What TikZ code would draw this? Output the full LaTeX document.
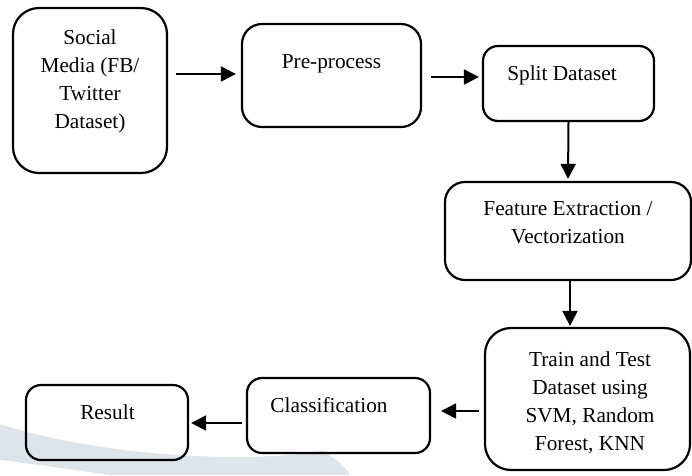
\documentclass[tikz,border=0pt]{standalone}
\usepackage{fontspec}
\setmainfont{Liberation Serif}
\usetikzlibrary{arrows.meta}
\definecolor{wmcol}{RGB}{222,228,232}
\begin{document}
\begin{tikzpicture}[x=1pt,y=-1pt,
  box/.style={draw=black, line width=2.2pt, rectangle, inner sep=0pt},
  txt/.style={inner sep=0pt, align=center, font=\fontsize{21.3}{27.7}\selectfont, anchor=base},
  arr/.style={line width=2pt, -{Triangle[length=15pt,width=15pt]}}]
\useasboundingbox (0,0) rectangle (692,475);
% faint watermark
\fill[wmcol] (0,424) .. controls (80,450) and (200,462) .. (290,455) -- (322,451)
  .. controls (335,458) and (345,466) .. (350,475) -- (110,475)
  .. controls (60,468) and (20,462) .. (0,460) -- cycle;
% boxes
\node[box, minimum width=154, minimum height=165, rounded corners=26pt] (sm) at (90,90.5) {};
\node[box, minimum width=179, minimum height=103, rounded corners=20pt] (pp) at (331.5,75.5) {};
\node[box, minimum width=171, minimum height=75, rounded corners=15pt] (sd) at (568.5,83.5) {};
\node[box, minimum width=246, minimum height=98, rounded corners=20pt] (fe) at (568,231) {};
\node[box, minimum width=205, minimum height=142, rounded corners=26pt] (tt) at (587.5,399) {};
\node[box, minimum width=183, minimum height=75, rounded corners=15pt] (cl) at (338.5,415.5) {};
\node[box, minimum width=162, minimum height=75, rounded corners=15pt] (rs) at (107,422.5) {};
% texts (base anchor = baseline of last line)
\node[txt] (smt) at (90,128) {Social\\Media (FB/\\Twitter\\Dataset)};
\node[txt] (ppt) at (331.5,68) {Pre-process};
\node[txt] (sdt) at (562,80) {Split Dataset};
\node[txt] (fet) at (568,243) {Feature Extraction /\\Vectorization};
\node[txt] (ttt) at (590,450) {Train and Test\\Dataset using\\SVM, Random\\Forest, KNN};
\node[txt] (clt) at (329,412) {Classification};
\node[txt] (rst) at (107.5,419) {Result};
% connectors
\draw[arr] ([xshift=8pt,yshift=16.5pt]sm.east) -- ([xshift=-5pt,yshift=1.5pt]pp.west);
\draw[arr] ([xshift=9pt,yshift=-1.5pt]pp.east) -- ([xshift=-3pt,yshift=6.5pt]sd.west);
\draw[arr] (sd.south) -- ([yshift=2pt]fe.north);
\draw[arr] ([xshift=2pt]fe.south) -- ([xshift=-17.5pt,yshift=1pt]tt.north);
\draw[arr] ([xshift=-5pt,yshift=-12pt]tt.west) -- ([xshift=10pt,yshift=4.5pt]cl.east);
\draw[arr] ([xshift=-4pt,yshift=-7.5pt]cl.west) -- ([xshift=2pt,yshift=-0.5pt]rs.east);
\end{tikzpicture}
\end{document}
